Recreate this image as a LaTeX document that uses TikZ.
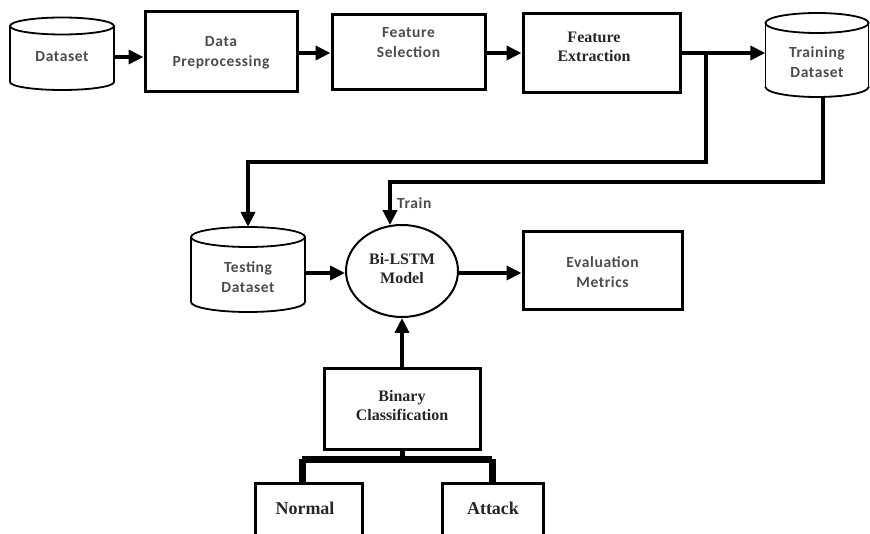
\documentclass[tikz,border=0pt]{standalone}
\usepackage{fontspec}
\setmainfont{Liberation Serif}
\newfontfamily\calib[LetterSpace=4]{Carlito}
\usetikzlibrary{arrows.meta,shapes.geometric}
\newcommand{\cylshape}[6]{% cx, rx, top-center y, bottom-center y, ry-top, ry-bottom
  \fill[white] (#1-#2,#3) rectangle (#1+#2,#4);
  \draw[cylline] (#1,#4) ellipse ({#2} and {#6});
  \fill[white] (#1-#2,#3) rectangle (#1+#2,#4);
  \draw[cylline] (#1-#2,#3) -- (#1-#2,#4);
  \draw[cylline] (#1+#2,#3) -- (#1+#2,#4);
  \draw[cylline,fill=white] (#1,#3) ellipse ({#2} and {#5});
}
\begin{document}
\begin{tikzpicture}[x=1pt,y=-1pt,
  box/.style={draw, line width=3pt, fill=white, inner sep=0pt, minimum width=#1},
  cylline/.style={line width=1.8pt},
  sanslbl/.style={font=\calib\bfseries\fontsize{15.5}{20}\selectfont, text=black!70, align=center, inner sep=0pt},
  seriflbl/.style={font=\bfseries\fontsize{16}{19}\selectfont, text=black!85, align=center, inner sep=0pt},
  conn/.style={line width=4pt},
  arr/.style={conn, -{Triangle[length=15pt,width=14pt]}},
  thickconn/.style={line width=7pt}
]
\useasboundingbox (0,0) rectangle (870,534);
\fill[white] (0,0) rectangle (870,534);

% cylinders
\cylshape{62}{52}{26}{82}{8.5}{8}
\cylshape{817}{51.5}{23}{87}{10}{10}
\cylshape{248}{57}{237}{302}{10}{10}
\node[minimum width=104pt, minimum height=72pt, inner sep=0pt] (ds) at (62,54) {};
\node[minimum width=103pt, minimum height=84pt, inner sep=0pt] (tr) at (817,55) {};
\node[minimum width=114pt, minimum height=85pt, inner sep=0pt] (te) at (248,269.5) {};

% boxes
\node[box=152pt, minimum height=80pt] (dp) at (221,52) {};
\node[box=153pt, minimum height=75pt] (fs) at (408.5,52.5) {};
\node[box=157pt, minimum height=79pt] (fe) at (601.5,53.5) {};
\node[box=159pt, minimum height=78pt] (em) at (602.5,271) {};
\node[box=156pt, minimum height=80pt] (bc) at (402,409) {};
\node[box=107pt, minimum height=60pt] (nm) at (308.5,513) {};
\node[box=101pt, minimum height=60pt] (at) at (492.5,513) {};
\node[draw, ellipse, line width=2pt, fill=white, minimum width=112pt, minimum height=92pt, inner sep=0pt] (bl) at (402,271) {};

% labels
\node[sanslbl] (dsT) at (62,57) {Dataset};
\node[sanslbl] (dpT) at (221,53) {Data\\Preprocessing};
\node[sanslbl] (fsT) at (408.5,43) {Feature\\Selection};
\node[seriflbl] (feT) at (594,47) {Feature\\Extraction};
\node[sanslbl] (trT) at (817,62) {Training\\Dataset};
\node[sanslbl] (teT) at (248,277) {Testing\\Dataset};
\node[seriflbl] (blT) at (402,269) {Bi-LSTM\\Model};
\node[sanslbl] (emT) at (602.5,272) {Evaluation\\Metrics};
\node[seriflbl] (bcT) at (402,406) {Binary\\Classification};
\node[seriflbl, font=\bfseries\fontsize{18}{20}\selectfont] (nmT) at (305,508) {Normal};
\node[seriflbl, font=\bfseries\fontsize{18}{20}\selectfont] (atT) at (493,508) {Attack};
\node[sanslbl, anchor=west] (trainT) at (397,203) {Train};

% connectors
\draw[arr] (ds.east |- 0,57) -- (dp.west |- 0,57);
\draw[arr] (dp.east |- 0,53) -- (fs.west |- 0,53);
\draw[arr] (fs.east |- 0,53) -- (fe.west |- 0,53);
\draw[arr] (fe.east |- 0,53) -- (tr.west |- 0,53);
\coordinate (br) at (706,53);
\coordinate (brTurn) at (te.north |- 0,162);
\draw[arr] (br) |- (brTurn) -- (te.north);
\coordinate (trOut) at (823,97);
\coordinate (trainIn) at (390,182);
\draw[arr] (trOut) |- (trainIn) -- (trainIn |- bl.105);
\draw[arr] (te.east |- 0,273) -- (bl.west |- 0,273);
\draw[arr] (bl.east |- 0,273) -- (em.west |- 0,273);
\draw[arr] (bc.north) -- (bl.south);
\coordinate (split) at (402,459);
\draw[line width=5pt] (bc.south) -- (split);
\draw[thickconn] (302,459) -- (492,459);
\draw[thickconn] (302,459) -- (302,483);
\draw[thickconn] (492,459) -- (492,483);
\end{tikzpicture}
\end{document}
